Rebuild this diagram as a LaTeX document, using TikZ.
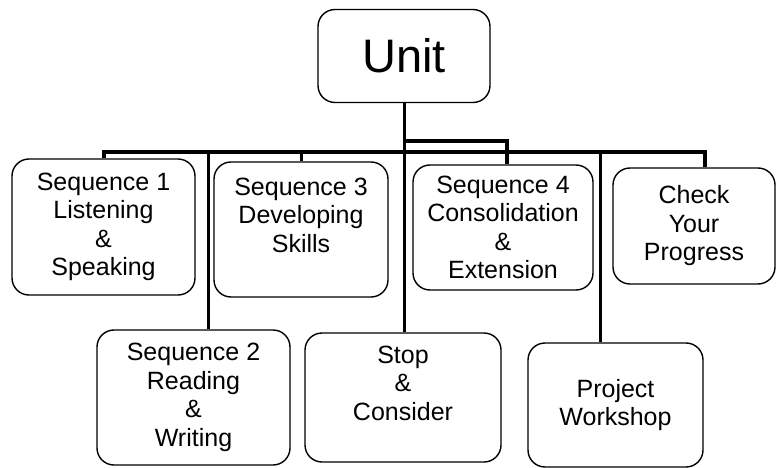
\documentclass[tikz,border=0pt]{standalone}
\usepackage{fontspec}
\setmainfont{Liberation Sans}
\usepackage{tikz}

\begin{document}
\begin{tikzpicture}[x=1pt, y=-1pt,
	box/.style={draw, rounded corners=17pt, line width=1.4pt, align=center, inner sep=0pt,
		font=\fontsize{25}{28.5}\selectfont},
	bar/.style={line width=4pt},
	drop/.style={line width=3pt}]
			\useasboundingbox (0,0) rectangle (776,468);
			% top box
			\node[box, minimum width=172pt, minimum height=93pt, font=\fontsize{47}{50}\selectfont] (unit) at (404,56) {Unit};
			% upper row
			\node[box, minimum width=183pt, minimum height=136pt] (seqone) at (103.5,227) {Sequence 1\\Listening\\\&\\Speaking};
			\node[box, minimum width=174pt, minimum height=135pt] (seqthree) at (301,229.5) {Sequence 3\\Developing\\Skills\\\mbox{}};
			\node[box, minimum width=180pt, minimum height=125pt] (seqfour) at (503,227.5) {Sequence 4\\Consolidation\\\&\\Extension};
			\node[box, minimum width=162pt, minimum height=116pt] (check) at (694,226) {Check\\Your\\Progress};
			% lower row
			\node[box, minimum width=193pt, minimum height=135pt] (seqtwo) at (193.5,397.5) {Sequence 2\\Reading\\\&\\Writing};
			\node[box, minimum width=196pt, minimum height=129pt] (stop) at (403,397.5) {Stop\\\&\\Consider\\\mbox{}};
			\node[box, minimum width=175pt, minimum height=124pt] (project) at (615.5,405) {Project\\Workshop};
			% joints on the bars
			\coordinate (barR) at (705,152);
			\coordinate (jtwo) at (208,152);
			\coordinate (jproj) at (600,152);
			\coordinate (jfour) at (507,141);
			% lines
			\draw[drop] (unit.south) -- (unit.south |- stop.north);
			\draw[bar] (seqone.north) |- (barR) -- (barR |- check.north);
			\draw[bar] (unit.south |- jfour) -- (jfour) -- (jfour |- seqfour.north);
			\draw[drop] (seqthree.north) -- (seqthree.north |- barR);
			\draw[drop] (jtwo) -- (jtwo |- seqtwo.north);
			\draw[drop] (jproj) -- (jproj |- project.north);
\end{tikzpicture}
\end{document}
